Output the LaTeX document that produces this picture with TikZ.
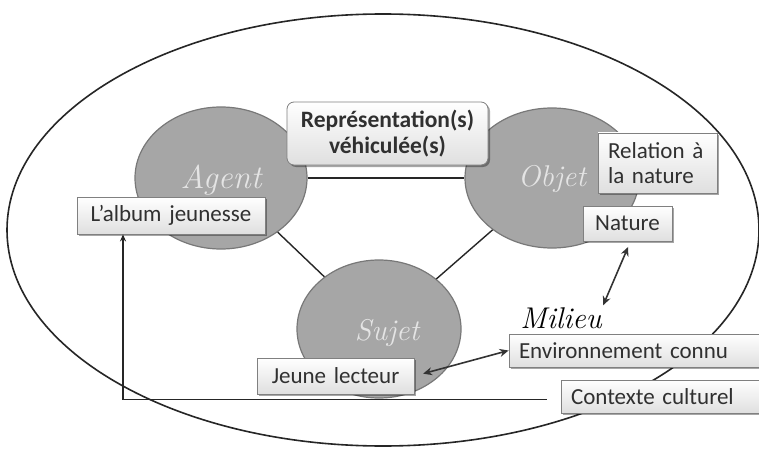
\documentclass[tikz,border=0pt]{standalone}
\usepackage{fontspec}
\newfontfamily\calibri{Carlito}
\usetikzlibrary{shapes.geometric,arrows.meta,shadows}
\definecolor{circfill}{HTML}{A6A6A6}
\definecolor{circdraw}{HTML}{787878}
\definecolor{boxdraw}{HTML}{808080}
\definecolor{boxtext}{HTML}{303030}
\definecolor{lbltext}{HTML}{E4E4E4}
\tikzset{
  circ/.style={ellipse, fill=circfill, draw=circdraw, line width=1.2pt,
    minimum width=172pt, minimum height=142pt, inner sep=0pt},
  lbl/.style={font=\fontsize{30}{30}\selectfont\itshape, text=lbltext},
  tbox/.style={draw=boxdraw, line width=0.8pt, top color=white, bottom color=gray!25,
    drop shadow={shadow xshift=2pt, shadow yshift=-2pt, opacity=0.35, fill=black},
    font=\calibri\fontsize{23}{25}\selectfont, text=boxtext,
    inner xsep=10pt, inner ysep=0pt, align=left},
  link/.style={line width=1.4pt, draw=black!85},
  dblarrow/.style={line width=1.6pt, draw=black!80, {Stealth[length=9pt,width=8pt]}-{Stealth[length=9pt,width=8pt]}},
}
\begin{document}
\begin{tikzpicture}[x=1pt,y=-1pt]
\useasboundingbox (0,0) rectangle (759,449);
\fill[white] (0,0) rectangle (759,449);
% outer ellipse
\node[ellipse, draw=black!85, line width=1.6pt, minimum width=752pt, minimum height=432pt, inner sep=0pt] (milieuell) at (383,230) {};
% circles
\node[circ] (agent) at (221,178) {};
\node[circ, minimum width=174pt, minimum height=140pt] (objet) at (552,178) {};
\node[circ, minimum width=164pt, minimum height=138pt] (sujet) at (379,329) {};
% connectors between circles
\draw[link, line width=2.2pt] (agent) -- (objet);
\draw[link] (agent) -- (sujet);
\draw[link] (objet) -- (sujet);
% circle labels
\node[lbl, font=\fontsize{33}{33}\selectfont\itshape] (agentlbl) at (221,180) {Agent};
\node[lbl] (objetlbl) at (552,179) {Objet};
\node[lbl] (sujetlbl) at (387,333) {Sujet};
% boxes
\node[tbox, rounded corners=7pt, align=center, font=\calibri\bfseries\fontsize{23.5}{26}\selectfont,
      text width=181pt, minimum height=63pt] (rep) at (387.5,133.5) {Représentation(s)\\véhiculée(s)};
\node[tbox, text width=99pt, minimum height=60pt] (rel) at (657.5,163) {Relation à\\la nature};
\node[tbox, align=center, text width=69pt, minimum height=35pt] (nat) at (627.5,223.5) {Nature};
\node[tbox, align=center, text width=168pt, minimum height=37pt] (alb) at (171,215.5) {L’album jeunesse};
\node[tbox, align=center, text width=137pt, minimum height=36pt] (jeu) at (335.5,376) {Jeune lecteur};
\node[tbox, text width=241pt, minimum height=33pt] (env) at (639.5,350.5) {Environnement connu};
\node[tbox, text width=189pt, minimum height=33pt] (ctx) at (665.5,396.5) {Contexte culturel};
% Milieu
\node[font=\fontsize{30}{30}\selectfont\itshape, text=black, inner sep=1pt] (mil) at (561,318) {Milieu};
% arrows
\draw[dblarrow, shorten <=6pt, shorten >=1pt] ([xshift=3pt]nat.south) -- (mil.north east);
\draw[dblarrow, shorten <=9pt] (jeu.east) -- (env.west);
\draw[line width=1.4pt, draw=black!85, -{Stealth[length=7pt,width=6pt]}, shorten <=14pt]
  ([yshift=-3pt]ctx.west) -| ([xshift=-48pt]alb.south);
\end{tikzpicture}
\end{document}
